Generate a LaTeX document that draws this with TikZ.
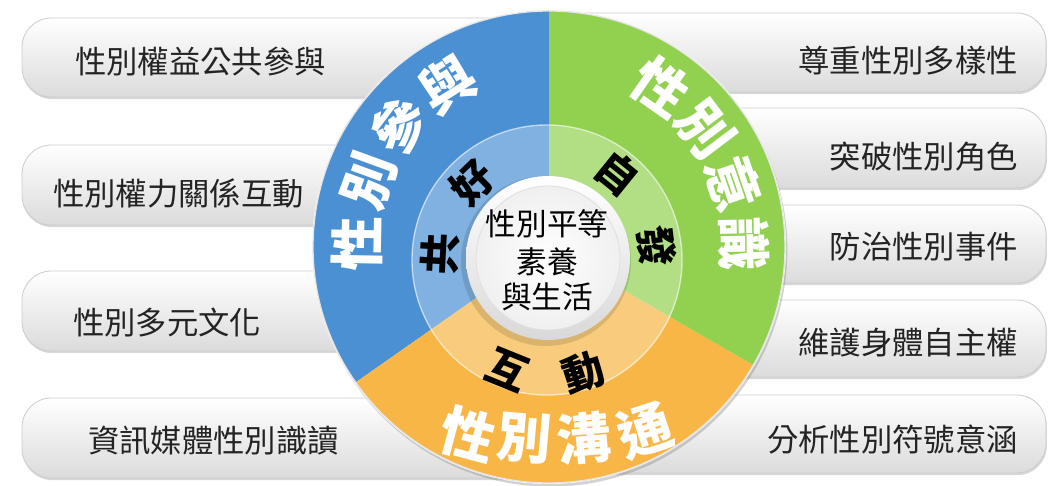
\documentclass[tikz,border=0pt]{standalone}
\usepackage{fontspec}
\newfontfamily\cjk{Noto Sans CJK TC}
\usetikzlibrary{shadows,calc}
\definecolor{pblue}{RGB}{74,144,211}
\definecolor{pgreen}{RGB}{146,208,80}
\definecolor{porange}{RGB}{247,182,69}
\definecolor{txt}{RGB}{35,35,35}
\begin{document}
\begin{tikzpicture}[x=0.75pt,y=0.75pt,
  pill/.style={rounded corners=22pt, top color=white, bottom color=gray!28, draw=gray!40, line width=0.6pt,
    drop shadow={shadow xshift=0.6pt, shadow yshift=-1.6pt, opacity=0.3}},
  boxtxt/.style={font=\cjk\fontsize{23.5}{28}\selectfont, text=txt, inner sep=0pt},
  bigtxt/.style={font=\cjk\bfseries\fontsize{41}{46}\selectfont, text=white, inner sep=0pt},
  midtxt/.style={font=\cjk\bfseries\fontsize{31}{34}\selectfont, text=black, inner sep=0pt},
  ctxt/.style={font=\cjk\fontsize{23}{28}\selectfont, text=black, inner sep=0pt}
]
\fill[white] (0,0) rectangle (1048,485);
\useasboundingbox (0,0) rectangle (1048,485);

% left pills
\path[pill] (22,388) rectangle (560,467);
\path[pill] (22,260) rectangle (560,340);
\path[pill] (22,134) rectangle (560,214);
\path[pill] (22,7) rectangle (560,87);
% right pills
\path[pill] (540,393) rectangle (1046,472);
\path[pill] (540,297) rectangle (1046,377);
\path[pill] (540,202) rectangle (1046,280);
\path[pill] (540,108) rectangle (1046,185);
\path[pill] (540,12) rectangle (1046,90);

\node[boxtxt, anchor=west] (l1) at (75,423) {性別權益公共參與};
\node[boxtxt, anchor=west] (l2) at (53,292) {性別權力關係互動};
\node[boxtxt, anchor=west] (l3) at (73,162) {性別多元文化};
\node[boxtxt, anchor=west] (l4) at (88,44) {資訊媒體性別識讀};
\node[boxtxt, anchor=east] (r1) at (1018,424) {尊重性別多樣性};
\node[boxtxt, anchor=east] (r2) at (1018,328) {突破性別角色};
\node[boxtxt, anchor=east] (r3) at (1018,238) {防治性別事件};
\node[boxtxt, anchor=east] (r4) at (1018,142) {維護身體自主權};
\node[boxtxt, anchor=east] (r5) at (1018,45) {分析性別符號意涵};

% wheel
\coordinate (O) at (549,238);
\coordinate (I) at (547,225);
\coordinate (C) at (548,227);
\path[fill=white, drop shadow={shadow xshift=1pt, shadow yshift=-2pt, opacity=0.35}] (O) circle (237);
\fill[pblue] (O) -- +(90:236) arc[start angle=90,end angle=215,radius=236] -- cycle;
\fill[porange] (O) -- +(215:236) arc[start angle=215,end angle=330,radius=236] -- cycle;
\fill[pgreen] (O) -- +(-30:236) arc[start angle=-30,end angle=90,radius=236] -- cycle;
\draw[white!80!gray, line width=1pt] (O) circle (236);

% inner ring overlay
\fill[white, opacity=0.3] (I) circle (135);
\draw[white, opacity=0.6, line width=1pt] (I) circle (135);

% centre disc
\fill[black, opacity=0.12] ($(C)+(-2,-3)$) circle (85);
\shade[top color=white, bottom color=gray!30] (C) circle (82);
\shade[inner color=white, outer color=gray!12] (C) circle (72);
\draw[gray!25, line width=0.6pt] (C) circle (72);

\node[ctxt] (c1) at (547,261) {性別平等};
\node[ctxt] (c2) at (547,223) {素養};
\node[ctxt] (c3) at (547,188) {與生活};

% big arc texts
\foreach \a/\ch/\n in {179/性/1,160/別/2,141/參/3,122/與/4}{
  \path (O) ++(\a:192) node[bigtxt, rotate=\a-90] (b\n) {\ch};
}
\foreach \a/\ch/\n in {55/性/1,37/別/2,19/意/3,1/識/4}{
  \path (O) ++(\a:195) node[bigtxt, rotate=\a-90] (g\n) {\ch};
}
\foreach \x/\y/\r/\ch/\n in {468/50/-15/性/1,524/47/-5/別/2,584/47/5/溝/3,645/55/18/通/4}{
  \node[bigtxt, rotate=\r] (o\n) at (\x,\y) {\ch};
}

% inner ring texts
\path (I) ++(177:107) node[midtxt, rotate=87] (m1) {共};
\path (I) ++(134:107) node[midtxt, rotate=44] (m2) {好};
\path (I) ++(51:112) node[midtxt, rotate=-39] (m3) {自};
\path (I) ++(7:110) node[midtxt, rotate=-83] (m4) {發};
\path (I) ++(-109.5:117) node[midtxt, rotate=-22] (m5) {互};
\path (I) ++(-72:118) node[midtxt, rotate=18] (m6) {動};
\end{tikzpicture}
\end{document}
